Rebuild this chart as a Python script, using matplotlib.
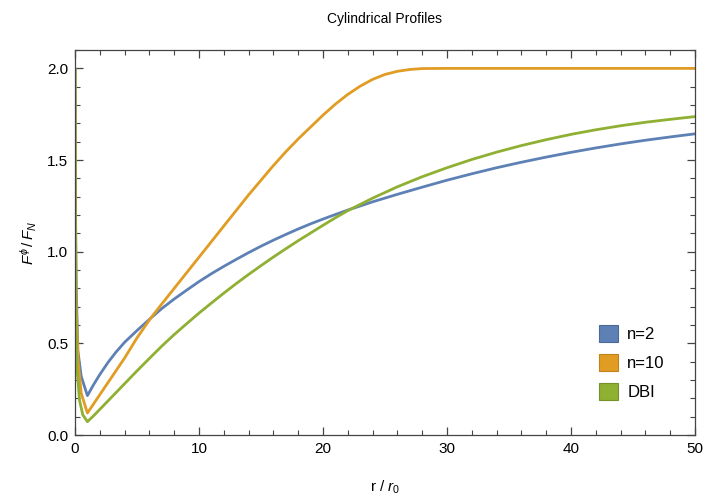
import numpy as np
import matplotlib
matplotlib.use("Agg")
import matplotlib.pyplot as plt
from matplotlib.patches import Patch

plt.rcParams['font.family'] = ['Liberation Sans', 'DejaVu Sans']
plt.rcParams['mathtext.fontset'] = 'custom'
plt.rcParams['mathtext.rm'] = 'Liberation Sans'
plt.rcParams['mathtext.it'] = 'Liberation Sans:italic'

# curves (r/r0 , F^phi/F_N)
r_n2 = [0, 0.03, 0.1, 0.23, 0.5, 1.0, 1.25, 1.5, 2, 2.65, 3.3, 4, 5, 6.1, 7, 8, 9, 10,
        11, 12, 13, 14, 15, 16, 17, 18, 19, 20, 21, 22, 24, 26, 28, 30, 32, 34, 36, 38,
        40, 42, 44, 46, 48, 50]
f_n2 = [2.0, 1.3, 0.8, 0.46, 0.32, 0.215, 0.245, 0.275, 0.33, 0.395, 0.452, 0.506, 0.57,
        0.637, 0.69, 0.742, 0.79, 0.837, 0.88, 0.92, 0.958, 0.995, 1.03, 1.063, 1.094,
        1.124, 1.152, 1.178, 1.203, 1.227, 1.272, 1.313, 1.352, 1.39, 1.425, 1.458,
        1.488, 1.516, 1.542, 1.566, 1.588, 1.608, 1.626, 1.643]

r_n10 = [0, 0.03, 0.1, 0.25, 0.5, 1.0, 2, 3, 4, 5, 6.1, 7, 8, 9, 10, 11, 12, 13, 14, 15,
         16, 17, 18, 19, 20, 21, 22, 23, 24, 25, 26, 27, 28, 30, 35, 40, 45, 50]
f_n10 = [2.0, 1.2, 0.7, 0.40, 0.228, 0.12, 0.22, 0.32, 0.42, 0.53, 0.637, 0.715, 0.80,
         0.885, 0.97, 1.055, 1.14, 1.225, 1.31, 1.39, 1.47, 1.545, 1.615, 1.68, 1.745,
         1.805, 1.858, 1.903, 1.94, 1.967, 1.984, 1.994, 1.999, 2.0, 2.0, 2.0, 2.0, 2.0]

r_dbi = [0, 0.02, 0.06, 0.15, 0.36, 0.63, 1.0, 1.5, 2, 3, 4, 5, 6, 7, 8, 9, 10, 11, 12,
         13, 14, 15, 16, 17, 18, 19, 20, 21, 22, 24, 26, 28, 30, 32, 34, 36, 38, 40, 42,
         44, 46, 48, 50]
f_dbi = [2.0, 1.2, 0.7, 0.373, 0.19, 0.11, 0.073, 0.105, 0.14, 0.21, 0.28, 0.35, 0.418,
         0.485, 0.548, 0.607, 0.665, 0.72, 0.774, 0.826, 0.876, 0.924, 0.971, 1.016,
         1.06, 1.102, 1.144, 1.185, 1.224, 1.292, 1.354, 1.409, 1.458, 1.503, 1.543,
         1.579, 1.611, 1.64, 1.665, 1.687, 1.706, 1.722, 1.737]

labels = ['n=2', 'n=10', 'DBI']
colors = ['#5E81B5', '#E19C24', '#8FB032']
edges = ['#4a6a99', '#c0821a', '#74912a']

fig = plt.figure(figsize=(7.05, 4.97), dpi=100)
ax = fig.add_axes([0.1064, 0.1247, 0.8794, 0.7746])

for r, f, c in zip([r_n2, r_n10, r_dbi], [f_n2, f_n10, f_dbi], colors):
    ax.plot(r, f, color=c, lw=2.0, solid_capstyle='round', solid_joinstyle='round')

ax.set_xlim(0, 50)
ax.set_ylim(0, 2.1)
ax.set_xticks(np.arange(0, 51, 10))
ax.set_xticks(np.arange(0, 51, 2), minor=True)
ax.set_yticks(np.arange(0, 2.01, 0.5))
ax.set_yticks(np.arange(0, 2.101, 0.1), minor=True)
ax.yaxis.set_major_formatter(matplotlib.ticker.FormatStrFormatter('%.1f'))
ax.tick_params(which='both', direction='in', top=True, right=True,
               color='#444444', labelsize=11, pad=5)
ax.tick_params(which='major', length=6, width=0.9)
ax.tick_params(which='minor', length=3.5, width=0.8)
for s in ax.spines.values():
    s.set_color('#444444')
    s.set_linewidth(0.9)

ax.set_xlabel('r / $r_0$', fontsize=11, labelpad=16)
ax.set_ylabel('$F^{\\phi}\\,/\\,F_N$', fontsize=11, labelpad=6)
fig.text(0.546, 0.962, 'Cylindrical Profiles', ha='center', va='center', fontsize=10)

handles = [Patch(facecolor=c, edgecolor=e, lw=0.8) for c, e in zip(colors, edges)]
ax.legend(handles, labels, loc='upper left', bbox_to_anchor=(0.845, 0.285),
          frameon=False, fontsize=12, handlelength=1.15, handleheight=1.15,
          labelspacing=0.72, handletextpad=0.55, borderpad=0, borderaxespad=0)

fig.savefig('out.png', dpi=100)
